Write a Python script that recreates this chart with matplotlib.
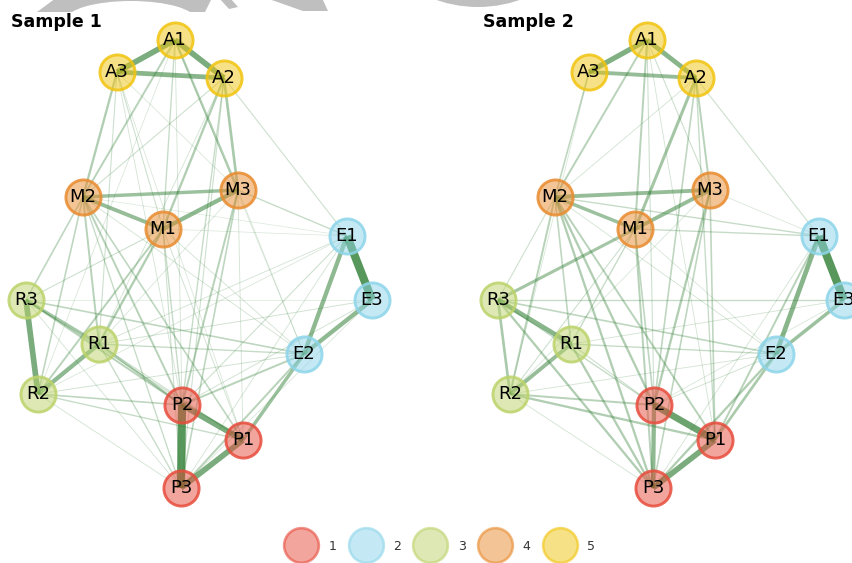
import matplotlib
matplotlib.use("Agg")
import matplotlib.pyplot as plt
from matplotlib.lines import Line2D
from matplotlib.patches import Polygon, Ellipse, Circle

# node layout (shared by both samples)
nodes = ["P1", "P2", "P3", "E1", "E2", "E3", "R1", "R2", "R3",
         "M1", "M2", "M3", "A1", "A2", "A3"]
node_x = [243, 182, 181, 347, 304, 372, 99, 38, 26, 163, 83, 238, 175, 224, 117]
node_y = [440, 405, 488, 236, 354, 300, 344, 394, 300, 229, 197, 190, 40, 78, 72]
node_group = [1, 1, 1, 2, 2, 2, 3, 3, 3, 4, 4, 4, 5, 5, 5]

groups = [1, 2, 3, 4, 5]
group_colors = ["#e74c3c", "#8dd5ea", "#bcd36a", "#e98b2e", "#f1c40f"]

# weighted edges per sample
edges_s1 = [
    ("A1", "A3", .75), ("A1", "A2", .75), ("A2", "A3", .65),
    ("M1", "M2", .55), ("M2", "M3", .5), ("M1", "M3", .6),
    ("E1", "E3", 1.0), ("E1", "E2", .6), ("E2", "E3", .6),
    ("R2", "R3", .75), ("R1", "R2", .6), ("R1", "R3", .45),
    ("P2", "P3", 1.0), ("P1", "P2", .75), ("P1", "P3", .75),
    ("P1", "E2", .5),
    ("A3", "M2", .35), ("A1", "M2", .3), ("A1", "M3", .35), ("A2", "M3", .4),
    ("A2", "M1", .35), ("A1", "M1", .2), ("A3", "M1", .15), ("A2", "M2", .15),
    ("A3", "M3", .08), ("A2", "E1", .15), ("A3", "R1", .15), ("A1", "P2", .1),
    ("A2", "P2", .2), ("A2", "P3", .15), ("A1", "R2", .08), ("A3", "P2", .1),
    ("A1", "E2", .06), ("A3", "P1", .08), ("A2", "R1", .1),
    ("M3", "E1", .2), ("M3", "P2", .3), ("M3", "P3", .25), ("M3", "E2", .1),
    ("M3", "P1", .1), ("M3", "R1", .08),
    ("M2", "R3", .25), ("M2", "R2", .25), ("M2", "R1", .3), ("M2", "P2", .3),
    ("M2", "P3", .2), ("M2", "P1", .25), ("M2", "E2", .1),
    ("M1", "R1", .35), ("M1", "R2", .3), ("M1", "R3", .15), ("M1", "P2", .2),
    ("M1", "P3", .15), ("M1", "E2", .1), ("M1", "P1", .12), ("M1", "E1", .06),
    ("E1", "P2", .15), ("E1", "R1", .1), ("E1", "P3", .1), ("E1", "R2", .08),
    ("E1", "M2", .05),
    ("E2", "R3", .25), ("E2", "R1", .2), ("E2", "R2", .12), ("E2", "P2", .3),
    ("E2", "P3", .3),
    ("E3", "R1", .12), ("E3", "P2", .12), ("E3", "R3", .06), ("E3", "P3", .08),
    ("R1", "P2", .35), ("R3", "P2", .3), ("R3", "P1", .15), ("R2", "P2", .25),
    ("R2", "P1", .2), ("R2", "P3", .1), ("R1", "P1", .15), ("R1", "P3", .2),
    ("R3", "P3", .1),
]

edges_s2 = [
    ("A1", "A3", .7), ("A1", "A2", .65), ("A2", "A3", .55),
    ("M1", "M2", .5), ("M2", "M3", .55), ("M1", "M3", .55),
    ("E1", "E3", 1.0), ("E1", "E2", .65), ("E2", "E3", .5),
    ("R1", "R3", .65), ("R2", "R3", .4), ("R1", "R2", .55),
    ("P1", "P2", .85), ("P2", "P3", .6), ("P1", "P3", .75),
    ("M1", "R3", .45), ("A2", "M1", .45), ("A2", "M3", .3), ("A1", "M1", .3),
    ("A3", "M2", .25), ("A1", "M2", .3), ("A1", "M3", .15), ("A2", "M2", .1),
    ("A2", "E1", .15), ("A1", "P2", .15), ("A2", "P2", .25), ("A2", "P1", .2),
    ("A3", "R2", .08), ("A1", "P1", .1),
    ("M2", "E1", .2), ("M1", "E1", .2), ("M3", "E1", .08),
    ("M2", "R3", .15), ("M2", "R1", .25), ("M2", "R2", .3), ("M2", "P2", .35),
    ("M2", "P3", .35), ("M2", "P1", .3), ("M2", "E2", .1),
    ("M1", "P3", .3), ("M1", "P2", .25), ("M1", "R1", .2), ("M1", "R2", .15),
    ("M1", "E2", .08),
    ("M3", "P2", .35), ("M3", "P3", .25), ("M3", "P1", .25), ("M3", "R2", .08),
    ("R3", "P3", .35), ("R3", "P2", .2), ("R1", "P3", .35), ("R1", "P2", .15),
    ("R2", "P2", .3), ("R2", "P1", .35), ("R2", "P3", .1),
    ("R1", "E2", .2), ("R3", "E2", .25), ("R3", "E3", .2), ("R2", "E2", .1),
    ("R1", "E3", .1),
    ("E2", "P1", .4), ("E2", "P3", .35), ("E1", "P1", .3), ("E1", "P3", .1),
    ("E3", "P2", .08), ("E2", "P2", .12),
]

titles = ["Sample 1", "Sample 2"]

W, H = 853, 563
fig = plt.figure(figsize=(W / 100, H / 100), dpi=100)

# grey shapes cut off along the top edge
bg = fig.add_axes([0, 0, 1, 1], zorder=0)
bg.set_xlim(0, W)
bg.set_ylim(H, 0)
bg.axis("off")
grey = "#bfbfbf"
bg.add_patch(Polygon([(37, 12), (56, -2), (212, -2), (205, 12)], color=grey, lw=0))
bg.add_patch(Ellipse((131, 20), 130, 38, color="white", lw=0))
bg.add_patch(Polygon([(219, -2), (230, -2), (238, 7), (229, 9)], color=grey, lw=0))
bg.add_patch(Polygon([(266, -2), (322, -2), (328, 11), (303, 11)], color=grey, lw=0))
bg.add_patch(Circle((478, -119.5), 126.5, color=grey, lw=0))

pos = {n: (x, y) for n, x, y in zip(nodes, node_x, node_y)}
color_of = {g: c for g, c in zip(groups, group_colors)}
edge_color = "#2e7d32"

panel_w = 472
for i, (edges, title) in enumerate(zip([edges_s1, edges_s2], titles)):
    ax = fig.add_axes([i * panel_w / W, 0, panel_w / W, 1], zorder=1)
    ax.set_xlim(0, panel_w)
    ax.set_ylim(H, 0)
    ax.axis("off")

    # edges: thicker and more opaque for stronger links
    for a, b, w in edges:
        (x0, y0), (x1, y1) = pos[a], pos[b]
        ax.plot([x0, x1], [y0, y1], color=edge_color,
                lw=0.4 + 5.5 * w ** 1.4, alpha=0.14 + 0.66 * w,
                solid_capstyle="butt", zorder=1)

    # nodes
    for n, x, y, g in zip(nodes, node_x, node_y, node_group):
        c = color_of[g]
        ax.scatter([x], [y], s=640, facecolor=matplotlib.colors.to_rgba(c, 0.5),
                   edgecolor=matplotlib.colors.to_rgba(c, 0.85),
                   linewidth=2.1, zorder=2)
        ax.text(x, y, n, ha="center", va="center", fontsize=13,
                color="black", zorder=3)

    ax.text(11, 22, title, ha="left", va="center", fontsize=12.5,
            fontweight="bold", zorder=3)

handles = [Line2D([], [], linestyle="none", marker="o", markersize=25,
                  markerfacecolor=matplotlib.colors.to_rgba(c, 0.5),
                  markeredgecolor=matplotlib.colors.to_rgba(c, 0.6),
                  markeredgewidth=1.9)
           for c in group_colors]
fig.legend(handles, [str(g) for g in groups], loc="center",
           bbox_to_anchor=(0.518, 17 / H), ncol=5, frameon=False,
           fontsize=9, handlelength=2.0, handletextpad=1.2,
           columnspacing=1.35, labelcolor="#333333")

fig.savefig("out.png", dpi=100)
